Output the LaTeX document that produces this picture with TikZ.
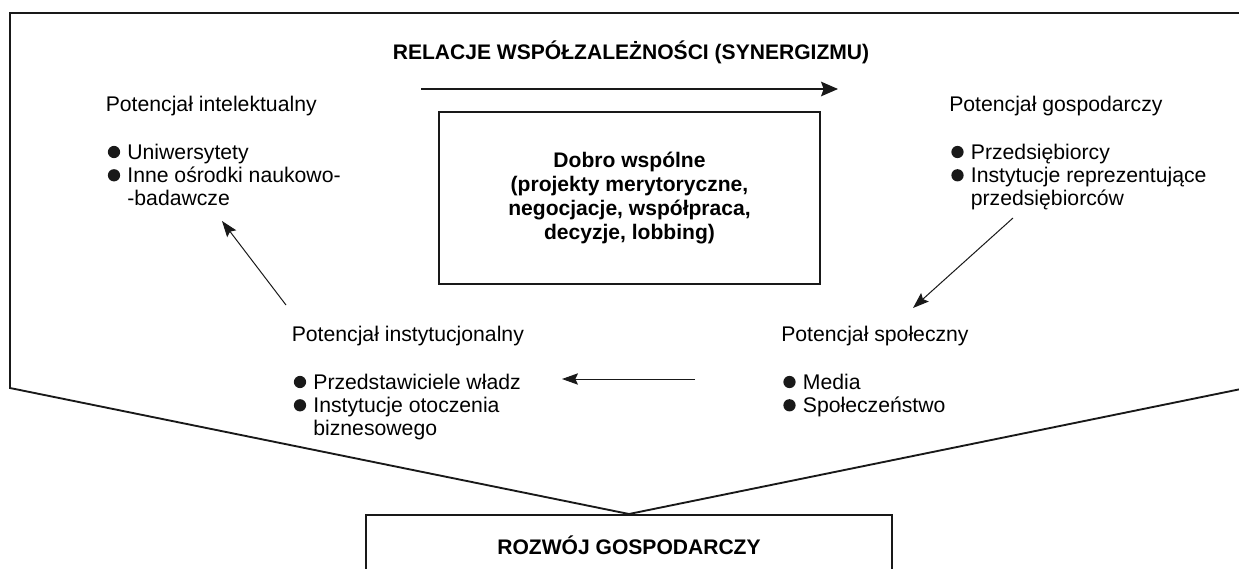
\documentclass[tikz,border=0pt]{standalone}
\usepackage{fontspec}
\setmainfont{Liberation Sans}
\usetikzlibrary{arrows.meta}
\newcommand{\bsp}{\hspace*{16.2pt}}
\begin{document}
\begin{tikzpicture}[x=0.75pt,y=-0.75pt,
  ink/.style={draw=black!90},
  txt/.style={font=\fontsize{15.9pt}{17.475pt}\selectfont, inner sep=0pt, align=left, text=black},
  btxt/.style={font=\bfseries\fontsize{15.8pt}{18pt}\selectfont, inner sep=0pt, align=center, text=black},
  outer/.style={ink, line width=1.4pt, line join=miter},
  boxst/.style={ink, line width=1.2pt, inner sep=0pt},
  dot/.style={fill=black!90},
  bigarrow/.style={ink, line width=0.9pt, -{Stealth[length=12.75pt, width=11pt, inset=2pt]}},
  smarrow/.style={ink, line width=0.75pt, -{Stealth[length=12pt, width=8.5pt, inset=2pt]}}
]
\useasboundingbox (0,0) rectangle (1239,568);

% bottom box (open at the bottom edge of the picture)
\node[boxst, draw, minimum width=394.5pt, minimum height=67.5pt, anchor=north] (dev) at (629,514) {};
\node[btxt, anchor=base] (devtext) at (629,554.5) {ROZWÓJ GOSPODARCZY};

% outer frame
\draw[outer] (10,388) -- (10,13) -- (1241,13) -- (1241,389) -- (dev.north) -- cycle;

% title
\node[btxt, anchor=base] (title) at (631,59.6) {RELACJE WSPÓŁZALEŻNOŚCI (SYNERGIZMU)};

% central box
\node[boxst, draw, minimum width=285.75pt, minimum height=129pt, btxt] (dobro) at (629.5,198)
  {Dobro wspólne\\(projekty merytoryczne,\\negocjacje, współpraca,\\decyzje, lobbing)};

% groups (anchored at the baseline of their last line)
\node[txt, anchor=base west] (intel) at (105.5,205.9)
  {Potencjał intelektualny\\[18.2pt]\bsp Uniwersytety\\\bsp Inne ośrodki naukowo-\\\bsp -badawcze};
\node[txt, anchor=base west] (gosp) at (949,205.9)
  {Potencjał gospodarczy\\[18.2pt]\bsp Przedsiębiorcy\\\bsp Instytucje reprezentujące\\\bsp przedsiębiorców};
\node[txt, anchor=base west] (inst) at (291.5,435.9)
  {Potencjał instytucjonalny\\[18.2pt]\bsp Przedstawiciele władz\\\bsp Instytucje otoczenia\\\bsp biznesowego};
\node[txt, anchor=base west] (spol) at (781,412.6)
  {Potencjał społeczny\\[18.2pt]\bsp Media\\\bsp Społeczeństwo};

% bullets
\foreach \bx/\by in {114/152, 114/175.3, 957.5/152, 957.5/175.3,
                     300/382, 300/405.3, 789.5/382, 789.5/405.3}
  \fill[dot] (\bx,\by) circle[radius=4.6pt];

% arrow end points
\coordinate (topA) at (421,89);
\coordinate (topB) at (838,89);
\coordinate (instOut) at (286,305);
\coordinate (intelIn) at (222,221);
\coordinate (gospOut) at (1013,218);
\coordinate (spolIn) at (913,308);
\coordinate (spolOut) at (695,379);
\coordinate (instIn) at (562,379);

\draw[bigarrow] (topA) -- (topB);
\draw[smarrow] (instOut) -- (intelIn);
\draw[smarrow] (gospOut) -- (spolIn);
\draw[smarrow] (spolOut) -- (instIn);
\end{tikzpicture}
\end{document}
